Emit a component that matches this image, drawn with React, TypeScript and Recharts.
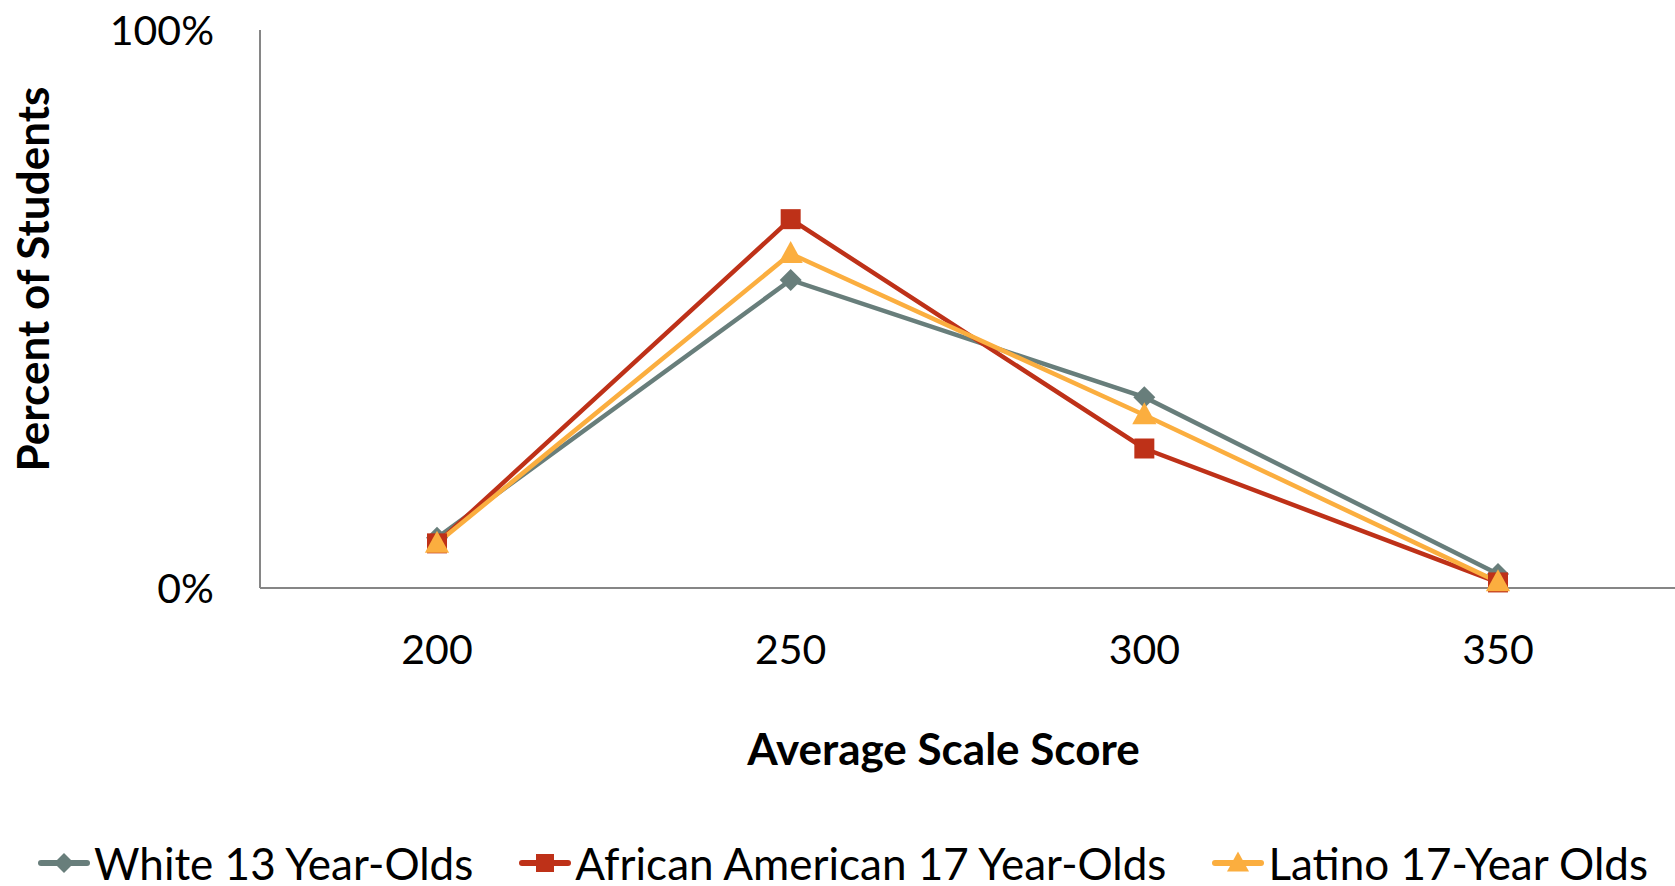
import React from 'react';
import { LineChart, Line, XAxis, YAxis, Legend } from 'recharts';

// values (percent of students)
const scores = ['200', '250', '300', '350'];
const white13 = [9, 55.2, 34.2, 2.5];
const africanAmerican17 = [8, 66.1, 25, 1];
const latino17 = [8, 59.9, 31, 1.1];
const yTicks = [0, 100];

const seriesNames = ['White 13 Year-Olds', 'African American 17 Year-Olds', 'Latino 17-Year Olds'];
const seriesKeys = ['white', 'african', 'latino'];
const seriesColors = ['#687E7B', '#BE3118', '#FBAE3F'];
const seriesShapes = ['diamond', 'square', 'triangle'];

const data = scores.map((s, i) => ({
  score: s,
  white: white13[i],
  african: africanAmerican17[i],
  latino: latino17[i],
}));

const FONT = 'Lato, "Open Sans", sans-serif';

const markerPath = (shape: string, cx: number, cy: number, r: number) => {
  if (shape === 'diamond') {
    return `M${cx},${cy - r} L${cx + r},${cy} L${cx},${cy + r} L${cx - r},${cy} Z`;
  }
  if (shape === 'square') {
    return `M${cx - r},${cy - r} H${cx + r} V${cy + r} H${cx - r} Z`;
  }
  return `M${cx},${cy - r * 1.15} L${cx + r * 1.1},${cy + r * 0.85} L${cx - r * 1.1},${cy + r * 0.85} Z`;
};

const makeDot = (shape: string, color: string) => (props: any) => {
  const { cx, cy, index } = props;
  if (cx == null || cy == null) return <g key={index} />;
  const r = shape === 'square' ? 10 : 11;
  return <path key={index} d={markerPath(shape, cx, cy, r)} fill={color} stroke="none" />;
};

const LegendIcon = ({ shape, color }: { shape: string; color: string }) => (
  <svg width={54} height={30} style={{ display: 'block' }}>
    <line x1={4} y1={15} x2={50} y2={15} stroke={color} strokeWidth={6} strokeLinecap="round" />
    <path d={markerPath(shape, 27, 15, shape === 'square' ? 9 : 10)} fill={color} />
  </svg>
);

const renderLegend = () => (
  <div
    style={{
      display: 'flex',
      alignItems: 'center',
      height: 46,
      paddingLeft: 37,
      fontFamily: FONT,
      fontSize: 44,
      color: '#000',
      whiteSpace: 'nowrap',
    }}
  >
    {seriesNames.map((name, i) => (
      <div key={name} style={{ display: 'flex', alignItems: 'center', marginRight: 45 }}>
        <LegendIcon shape={seriesShapes[i]} color={seriesColors[i]} />
        <span style={{ marginLeft: 3 }}>{name}</span>
      </div>
    ))}
  </div>
);

const App = () => {
  return (
    <div style={{ position: 'absolute', left: 0, top: 0, width: 1675, height: 886, background: '#fff' }}>
      <LineChart width={1675} height={886} data={data} margin={{ top: 30, right: 0, left: 0, bottom: 0 }}>
        <XAxis
          dataKey="score"
          height={252}
          padding={{ left: 177, right: 177 }}
          axisLine={{ stroke: '#868686', strokeWidth: 2 }}
          tickLine={false}
          tickSize={0}
          tickMargin={47}
          tick={{ fill: '#000', fontSize: 41, fontFamily: FONT }}
          label={({ viewBox }: any) => (
            <text
              x={viewBox.x + viewBox.width / 2 - 24}
              y={viewBox.y + 160}
              textAnchor="middle"
              dominantBaseline="central"
              fontFamily={FONT}
              fontWeight="bold"
              fontSize={44}
              fill="#000"
            >
              Average Scale Score
            </text>
          )}
        />
        <YAxis
          width={260}
          domain={[0, 100]}
          ticks={yTicks}
          tickFormatter={(v) => `${v}%`}
          axisLine={{ stroke: '#868686', strokeWidth: 2 }}
          tickLine={false}
          tickSize={0}
          tickMargin={46}
          tick={{ fill: '#000', fontSize: 41, fontFamily: FONT }}
          label={({ viewBox }: any) => (
            <text
              x={32}
              y={viewBox.y + viewBox.height / 2 - 30}
              transform={`rotate(-90, 32, ${viewBox.y + viewBox.height / 2 - 30})`}
              textAnchor="middle"
              dominantBaseline="central"
              fontFamily={FONT}
              fontWeight="bold"
              fontSize={44}
              fill="#000"
            >
              Percent of Students
            </text>
          )}
        />
        <Legend verticalAlign="bottom" align="left" content={renderLegend} />
        {seriesKeys.map((key, i) => (
          <Line
            key={key}
            type="linear"
            dataKey={key}
            name={seriesNames[i]}
            stroke={seriesColors[i]}
            strokeWidth={4.5}
            dot={makeDot(seriesShapes[i], seriesColors[i])}
            activeDot={false}
            isAnimationActive={false}
          />
        ))}
      </LineChart>
    </div>
  );
};

export default App;
